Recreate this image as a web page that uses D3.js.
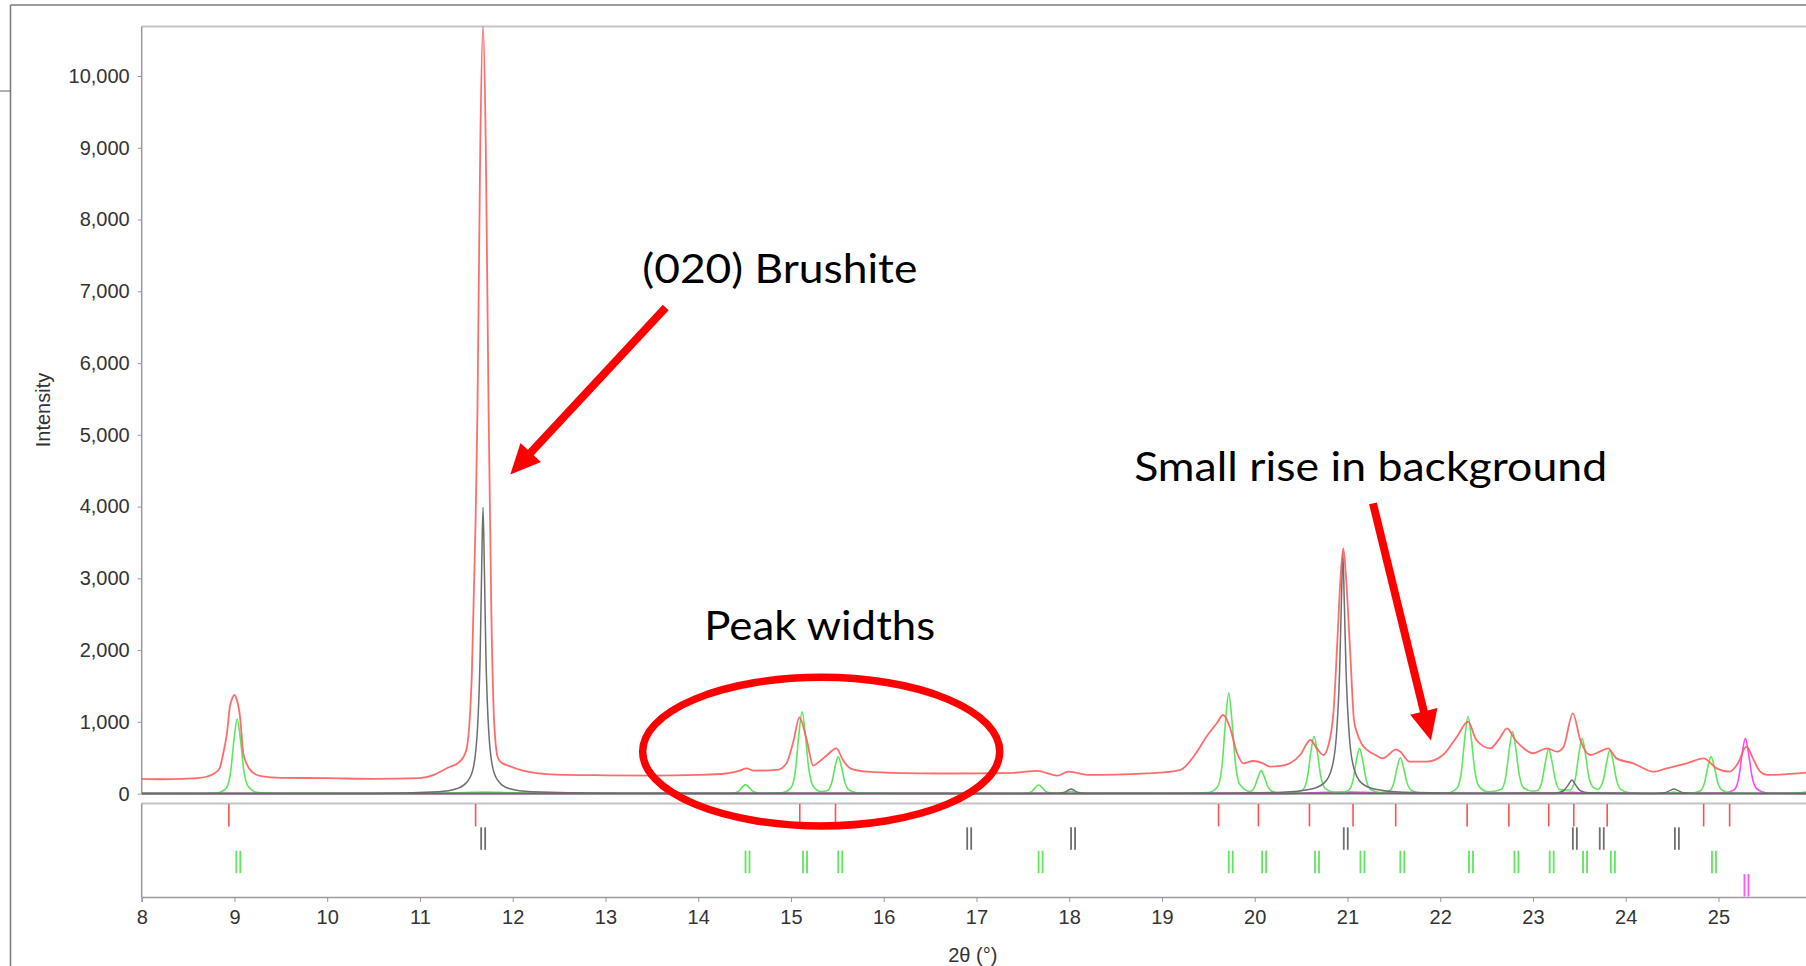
<!DOCTYPE html>
<html>
<head>
<meta charset="utf-8">
<script src="https://cdn.jsdelivr.net/npm/d3@7/dist/d3.min.js"></script>
<style>
  html, body { margin: 0; padding: 0; background: #fff; overflow: hidden; }
  svg { display: block; }
</style>
</head>
<body>
<svg id="chart" width="1806" height="966"></svg>
<script>
// ---------------- DATA ----------------
// Observed pattern: [2θ (°), intensity]
const observed = [
  [8.0,205],[8.2,200],[8.4,205],[8.6,215],[8.7,235],[8.78,280],[8.84,352],[8.88,565],[8.92,850],[8.95,1210],
  [8.98,1340],[9.0,1375],[9.02,1330],[9.06,1070],[9.095,565],[9.13,420],[9.2,290],[9.3,240],[9.5,220],[10.0,215],
  [10.5,205],[11.0,215],[11.15,260],[11.22,305],[11.3,360],[11.43,445],[11.5,607],[11.56,1680],[11.6,3800],[11.62,5345],
  [11.65,9000],[11.68,10700],[11.71,9000],[11.74,5345],[11.77,2500],[11.8,1000],[11.84,500],[11.88,430],[11.95,390],[12.11,320],
  [12.47,265],[13.0,255],[13.5,250],[14.0,260],[14.3,280],[14.45,320],[14.52,352],[14.6,320],[14.85,330],[14.95,420],
  [15.03,747],[15.09,1063],[15.17,747],[15.24,390],[15.3,440],[15.39,537],[15.49,631],[15.56,468],[15.64,352],[15.82,305],
  [16.2,285],[16.6,280],[17.04,283],[17.4,290],[17.65,318],[17.87,250],[17.99,305],[18.22,260],[18.5,265],[18.84,283],
  [19.05,300],[19.2,330],[19.34,514],[19.48,793],[19.59,980],[19.66,1095],[19.73,932],[19.81,562],[19.88,422],[19.98,454],
  [20.09,422],[20.16,375],[20.28,385],[20.38,422],[20.49,538],[20.6,747],[20.67,631],[20.74,538],[20.79,654],[20.85,1150],
  [20.89,2100],[20.925,3000],[20.955,3418],[20.985,3000],[21.03,1955],[21.07,1025],[21.1,860],[21.15,700],[21.21,608],[21.3,540],
  [21.38,491],[21.46,560],[21.52,617],[21.57,584],[21.67,445],[21.85,445],[22.03,538],[22.18,793],[22.3,1002],[22.39,747],
  [22.54,631],[22.64,770],[22.72,910],[22.81,747],[22.9,631],[23.0,562],[23.15,631],[23.26,584],[23.33,654],[23.43,1119],
  [23.51,747],[23.62,538],[23.72,584],[23.81,631],[23.9,491],[24.08,422],[24.3,305],[24.44,352],[24.66,422],[24.84,491],
  [24.98,352],[25.12,305],[25.21,422],[25.3,654],[25.38,468],[25.45,305],[25.52,260],[25.95,292]
];

// Calculated profile, phase drawn in grey
const phaseGrey = [
  [8.0,0],[10.5,3],[11.2,25],[11.4,70],[11.5,150],[11.57,330],[11.62,900],[11.65,2000],[11.665,3100],[11.68,3990],
  [11.695,3100],[11.71,2000],[11.74,900],[11.79,330],[11.86,150],[11.96,70],[12.2,25],[13.0,5],[17.5,2],
  [17.88,5],[17.95,20],[17.99,48],[18.02,64],[18.05,48],[18.09,20],[18.16,5],
  [19.5,5],[20.3,20],[20.6,60],[20.75,150],[20.83,350],[20.88,800],[20.915,1700],[20.935,2700],[20.95,3350],[20.965,2700],
  [20.985,1700],[21.02,800],[21.07,350],[21.15,150],[21.3,60],[21.6,20],[22.5,5],
  [23.25,10],[23.33,40],[23.38,120],[23.42,190],[23.46,120],[23.51,40],[23.6,12],[24.3,3],
  [24.42,12],[24.48,45],[24.52,64],[24.56,45],[24.62,12],[24.75,2],[25.95,0]
];

// Calculated profile, phase drawn in green
const phaseGreen = [
  [8.0,0],[8.6,2],
  [8.81,10],[8.91,73],[8.96,312],[8.995,749],[9.03,1040],[9.065,749],[9.1,333],[9.15,94],[9.25,16],
  [9.6,3],[11.2,5],[11.5,15],[11.7,20],[11.9,15],[12.2,5],[14.0,2],
  [14.29,1],[14.39,9],[14.44,38],[14.475,90],[14.51,125],[14.545,90],[14.58,40],[14.63,11],[14.73,2],
  [14.9,11],[15.0,80],[15.05,342],[15.085,821],[15.12,1140],[15.155,821],[15.19,365],[15.24,103],[15.32,30],[15.39,40],
  [15.44,155],[15.475,371],[15.51,515],[15.545,371],[15.58,165],[15.63,46],[15.73,8],
  [16.2,2],[17.3,2],
  [17.45,1],[17.55,8],[17.6,36],[17.635,86],[17.67,120],[17.705,86],[17.74,38],[17.79,11],[17.89,2],
  [17.95,9],[17.985,22],[18.02,30],[18.055,22],[18.09,10],[18.14,3],[18.24,0],
  [19.2,2],
  [19.5,14],[19.6,98],[19.65,420],[19.685,1008],[19.72,1400],[19.755,1008],[19.79,448],[19.84,126],[19.95,30],
  [20.0,96],[20.035,230],[20.07,320],[20.105,230],[20.14,102],[20.19,29],[20.29,5],
  [20.42,8],[20.52,56],[20.57,240],[20.605,576],[20.64,800],[20.675,576],[20.71,256],[20.76,72],[20.86,12],
  [20.91,6],[21.01,44],[21.06,189],[21.095,454],[21.13,630],[21.165,454],[21.2,202],[21.25,57],[21.35,14],
  [21.45,35],[21.5,150],[21.535,360],[21.57,500],[21.605,360],[21.64,160],[21.69,45],[21.79,8],
  [21.95,3],
  [22.08,11],[22.18,75],[22.23,323],[22.265,774],[22.3,1075],[22.335,774],[22.37,344],[22.42,97],[22.52,24],
  [22.66,61],[22.71,260],[22.745,623],[22.78,865],[22.815,623],[22.85,277],[22.9,78],[23.0,32],
  [23.05,43],[23.1,186],[23.135,446],[23.17,620],[23.205,446],[23.24,198],[23.29,56],[23.39,50],
  [23.41,60],[23.46,231],[23.495,554],[23.53,770],[23.565,554],[23.6,246],[23.65,87],[23.7,60],
  [23.76,200],[23.795,440],[23.83,610],[23.865,440],[23.9,195],[23.95,55],[24.05,9],
  [24.3,2],
  [24.42,3],[24.48,14],[24.52,20],[24.56,14],[24.62,3],
  [24.7,5],[24.8,36],[24.85,155],[24.885,371],[24.92,515],[24.955,371],[24.99,165],[25.04,46],[25.14,8],
  [25.5,2],[25.8,5],[25.95,22]
];

// Calculated profile, phase drawn in magenta
const phaseMagenta = [
  [8.0,0],[20.3,0],[20.6,10],[21.0,20],[21.4,10],[22.0,2],[23.2,3],[23.4,18],[23.6,5],[24.5,2],
  [25.07,8],[25.17,55],[25.22,230],[25.255,555],[25.29,770],[25.325,555],[25.36,250],[25.41,70],[25.51,12],[25.7,3],[25.95,0]
];

// Reflection markers (2θ) in the lower panel
const markersRed     = [8.94, 11.6, 15.095, 15.48, 19.61, 20.04, 20.59, 21.06, 21.52, 22.29, 22.74, 23.17, 23.44, 23.8, 24.84, 25.12];
const markersGrey    = [11.66, 16.9, 18.02, 20.96, 23.43, 23.72, 24.53];
const markersGreen   = [9.02, 14.51, 15.13, 15.51, 17.67, 19.72, 20.08, 20.65, 21.14, 21.57, 22.31, 22.8, 23.18, 23.54, 23.84, 24.93];
const markersMagenta = [25.28];

const xTicks = [8, 9, 10, 11, 12, 13, 14, 15, 16, 17, 18, 19, 20, 21, 22, 23, 24, 25];
const yTicks = [0, 1000, 2000, 3000, 4000, 5000, 6000, 7000, 8000, 9000, 10000];

const xLabel = "2θ (°)";
const yLabel = "Intensity";

// ---------------- LAYOUT ----------------
const svg = d3.select("#chart");
const L = 141.7, R = 1806.6, T = 26.5, B = 793.6;
const lowTop = 803.5, lowBot = 897;

const x = d3.scaleLinear().domain([8, 25.95]).range([L, R]);
const y = d3.scaleLinear().domain([0, 10690]).range([B, T]);
const rows = d3.scaleBand().domain(["red", "grey", "green", "magenta"]).range([lowTop, lowBot]).paddingInner(0.04).paddingOuter(0.02);

const tickFont = "'Liberation Sans', Arial, sans-serif";

// outer frame
svg.append("line").attr("x1", 10.5).attr("x2", 1806).attr("y1", 5).attr("y2", 5).attr("stroke", "#7a7a7a").attr("stroke-width", 1.5);
svg.append("line").attr("x1", 10.5).attr("x2", 10.5).attr("y1", 5).attr("y2", 966).attr("stroke", "#7a7a7a").attr("stroke-width", 1.5);
svg.append("line").attr("x1", 0).attr("x2", 10.5).attr("y1", 91).attr("y2", 91).attr("stroke", "#7a7a7a").attr("stroke-width", 1.2);

// upper plot frame
svg.append("line").attr("x1", L).attr("x2", R).attr("y1", T).attr("y2", T).attr("stroke", "#c4c4c4").attr("stroke-width", 2);

// y axis
const yAxis = d3.axisLeft(y).tickValues(yTicks).tickFormat(d3.format(",")).tickSize(4).tickPadding(8);
const gy = svg.append("g").attr("transform", `translate(${L},0)`).call(yAxis);
gy.select(".domain").attr("stroke", "#9a9a9a").attr("stroke-width", 1.5).attr("d", `M0,${T}V${B}`);
gy.selectAll(".tick line").attr("stroke", "#9a9a9a");
gy.selectAll(".tick text").attr("font-family", tickFont).attr("font-size", 20).attr("fill", "#333");

// y label
svg.append("text")
  .attr("transform", `translate(${50},${(T + B) / 2}) rotate(-90)`)
  .attr("text-anchor", "middle")
  .attr("font-family", tickFont).attr("font-size", 20).attr("fill", "#333")
  .text(yLabel);

// clip for curves
svg.append("clipPath").attr("id", "plotclip").append("rect")
  .attr("x", L).attr("y", T).attr("width", R - L).attr("height", B - T + 2);

const line = d3.line().x(d => x(d[0])).y(d => y(d[1])).curve(d3.curveMonotoneX);
const gp = svg.append("g").attr("clip-path", "url(#plotclip)");

gp.append("path").datum(phaseMagenta).attr("d", line).attr("fill", "none").attr("stroke", "#ff44ff").attr("stroke-width", 1.6);
gp.append("path").datum(phaseGreen).attr("d", line).attr("fill", "none").attr("stroke", "#5ee65e").attr("stroke-width", 1.6);
gp.append("path").datum(phaseGrey).attr("d", line).attr("fill", "none").attr("stroke", "#6e6e6e").attr("stroke-width", 1.5);
gp.append("path").datum(observed).attr("d", line).attr("fill", "none").attr("stroke", "#ff5c5c").attr("stroke-width", 1.8).attr("stroke-opacity", 0.9);

// zero baseline
svg.append("line").attr("x1", L).attr("x2", R).attr("y1", y(0)).attr("y2", y(0)).attr("stroke", "#6a6a6a").attr("stroke-width", 2);

// lower panel frame
svg.append("line").attr("x1", L).attr("x2", R).attr("y1", lowTop).attr("y2", lowTop).attr("stroke", "#c4c4c4").attr("stroke-width", 2);
svg.append("line").attr("x1", L).attr("x2", L).attr("y1", lowTop).attr("y2", lowBot).attr("stroke", "#9a9a9a").attr("stroke-width", 1.5);

// reflection markers
function drawMarkers(data, row, color, doublet, width) {
  const g = svg.append("g");
  const y0 = rows(row), y1 = rows(row) + rows.bandwidth();
  const offs = doublet ? [0, 4] : [0];
  data.forEach(v => {
    offs.forEach(o => {
      g.append("line").attr("x1", x(v) + o).attr("x2", x(v) + o).attr("y1", y0).attr("y2", y1)
        .attr("stroke", color).attr("stroke-width", width);
    });
  });
}
drawMarkers(markersRed, "red", "#ff5050", false, 1.6);
drawMarkers(markersGrey, "grey", "#6e6e6e", true, 1.8);
drawMarkers(markersGreen, "green", "#5ee65e", true, 1.8);
drawMarkers(markersMagenta, "magenta", "#ff55ff", true, 1.8);

// x axis
const xAxis = d3.axisBottom(x).tickValues(xTicks).tickFormat(d3.format("d")).tickSize(5).tickPadding(8);
const gx = svg.append("g").attr("transform", `translate(0,${lowBot})`).call(xAxis);
gx.select(".domain").attr("stroke", "#9a9a9a").attr("stroke-width", 1.5);
gx.selectAll(".tick line").attr("stroke", "#9a9a9a");
gx.selectAll(".tick text").attr("font-family", tickFont).attr("font-size", 20).attr("fill", "#333");

svg.append("text")
  .attr("x", x(16.96)).attr("y", 962)
  .attr("text-anchor", "middle")
  .attr("font-family", tickFont).attr("font-size", 20).attr("fill", "#333")
  .text(xLabel);

// ---------------- ANNOTATIONS ----------------
const annFont = "Lato, 'Open Sans', sans-serif";
function label(txt, xv, yv, len) {
  svg.append("text").attr("x", x(xv)).attr("y", y(yv)).attr("text-anchor", "middle")
    .attr("font-family", annFont).attr("font-size", 40).attr("fill", "#000")
    .attr("textLength", len).attr("lengthAdjust", "spacingAndGlyphs")
    .text(txt);
}
label("(020) Brushite", 14.88, 7115, 275);
label("Peak widths", 15.31, 2140, 231);
label("Small rise in background", 21.25, 4355, 473);

function arrow(x0, y0, x1, y1) {
  const ax = x(x0), ay = y(y0), bx = x(x1), by = y(y1);
  const dx = bx - ax, dy = by - ay, len = Math.hypot(dx, dy);
  const ux = dx / len, uy = dy / len, px = -uy, py = ux;
  const headLen = 30, headW = 14;
  const cx = bx - ux * headLen, cy = by - uy * headLen;
  svg.append("line").attr("x1", ax).attr("y1", ay).attr("x2", cx + ux * 2).attr("y2", cy + uy * 2)
    .attr("stroke", "#ff0000").attr("stroke-width", 8);
  svg.append("polygon")
    .attr("points", [[bx, by], [cx + px * headW, cy + py * headW], [cx - px * headW, cy - py * headW]].map(p => p.join(",")).join(" "))
    .attr("fill", "#ff0000");
}
arrow(13.65, 6774, 11.974, 4447);
arrow(21.275, 4045, 21.9, 739);

svg.append("ellipse")
  .attr("cx", x(15.326)).attr("cy", y(585))
  .attr("rx", x(8 + 1.925) - x(8)).attr("ry", y(0) - y(1035))
  .attr("fill", "none").attr("stroke", "#ff0000").attr("stroke-width", 7.5);
</script>
</body>
</html>
